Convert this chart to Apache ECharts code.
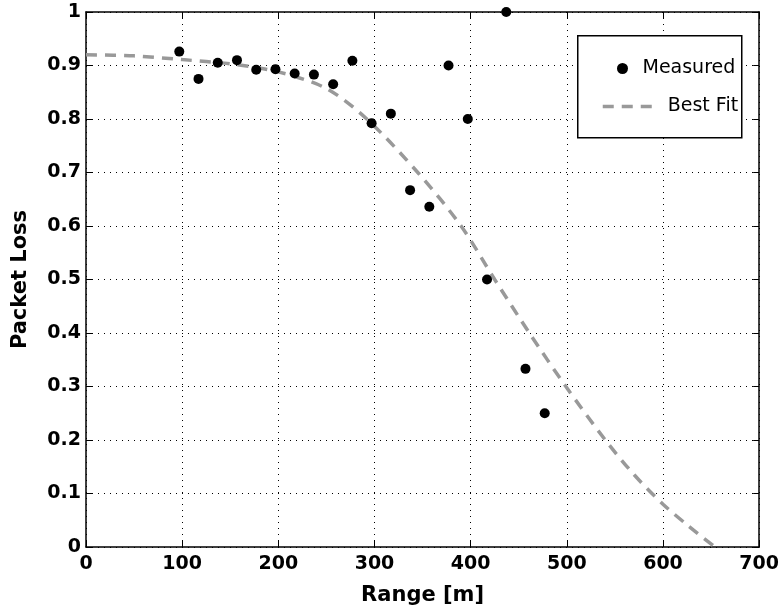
<!DOCTYPE html>
<html lang="en">
<head>
    <meta charset="UTF-8">
    <title>Packet Loss</title>
    <style>
        html, body { margin: 0; padding: 0; background: #fff; overflow: hidden; }
    </style>
</head>
<body>
<div id="chart" style="width: 782px; height: 611px"></div>
<script src="https://cdn.jsdelivr.net/npm/echarts@6/dist/echarts.min.js"></script>
<script>
    // measured points
    var rangeMeasured = [97, 117, 137, 157, 177, 197, 217, 237, 257, 277,
                         297, 317, 337, 357, 377, 397, 417, 437, 457, 477];
    var lossMeasured = [0.926, 0.875, 0.905, 0.91, 0.892, 0.893, 0.885, 0.883, 0.865, 0.909,
                        0.792, 0.81, 0.667, 0.636, 0.9, 0.8, 0.5, 1.0, 0.333, 0.25];

    // best fit curve
    var rangeFit = [0, 50, 100, 150, 200, 250, 292, 345, 390, 425, 461, 499, 540, 570, 600, 626, 654];
    var lossFit = [0.92, 0.918, 0.911, 0.903, 0.888, 0.857, 0.8, 0.7, 0.6, 0.5, 0.4, 0.3, 0.2, 0.135, 0.08, 0.04, 0];

    var xTicks = [0, 100, 200, 300, 400, 500, 600, 700];

    var measuredData = [];
    for (var i in rangeMeasured) {
        measuredData.push([rangeMeasured[i], lossMeasured[i]]);
    }
    var fitData = [];
    for (var j in rangeFit) {
        fitData.push([rangeFit[j], lossFit[j]]);
    }

    var font = 'DejaVu Sans';
    var gridLine = { show: true, lineStyle: { color: '#000', width: 1, type: [1, 5] } };
    var tickIn = { show: true, inside: true, length: 6, lineStyle: { color: '#000', width: 1 } };
    var axisLine = { show: true, onZero: false, lineStyle: { color: '#000', width: 1.5 } };
    var fitLine = { color: '#999', width: 3.5, type: [11, 8] };

    var chart = echarts.init(document.getElementById('chart'));
    var option = {
        animation: false,
        grid: { left: 86, right: 22, top: 12, bottom: 59, containLabel: false },
        xAxis: [{
            type: 'value',
            min: 0, max: 700, interval: 100,
            name: 'Range [m]',
            nameLocation: 'middle',
            nameGap: 38,
            nameTextStyle: { fontFamily: font, fontWeight: 'bold', fontSize: 21, color: '#000' },
            axisLine: axisLine,
            axisTick: tickIn,
            splitLine: gridLine,
            axisLabel: {
                fontFamily: font, fontWeight: 'bold', fontSize: 19, color: '#000', margin: 8,
                formatter: function (v) { return xTicks.indexOf(v) >= 0 ? String(v) : ''; }
            }
        }, {
            type: 'value', position: 'top',
            min: 0, max: 700, interval: 100,
            axisLine: axisLine, axisTick: tickIn, axisLabel: { show: false }, splitLine: { show: false }
        }],
        yAxis: [{
            type: 'value',
            min: 0, max: 1, interval: 0.1,
            name: 'Packet Loss',
            nameLocation: 'middle',
            nameGap: 55,
            nameTextStyle: { fontFamily: font, fontWeight: 'bold', fontSize: 21, color: '#000' },
            axisLine: axisLine,
            axisTick: tickIn,
            splitLine: gridLine,
            axisLabel: { fontFamily: font, fontWeight: 'bold', fontSize: 19, color: '#000', margin: 5 }
        }, {
            type: 'value', position: 'right',
            min: 0, max: 1, interval: 0.1,
            axisLine: axisLine, axisTick: tickIn, axisLabel: { show: false }, splitLine: { show: false }
        }],
        legend: [{
            data: ['Measured'],
            left: 612, top: 54,
            z: 10,
            itemWidth: 18, itemHeight: 11,
            textStyle: { fontFamily: font, fontSize: 19, color: '#000', padding: [0, 0, 0, 6] }
        }, {
            data: ['Best Fit'],
            left: 596, top: 92,
            z: 10,
            itemWidth: 50, itemHeight: 14,
            itemStyle: { opacity: 0 },
            lineStyle: fitLine,
            textStyle: { fontFamily: font, fontSize: 19, color: '#000', padding: [0, 0, 0, 10] }
        }],
        graphic: [{
            type: 'rect',
            left: 577, top: 35,
            shape: { width: 164, height: 102 },
            style: { fill: '#fff', stroke: '#000', lineWidth: 1.5 },
            z: 5
        }],
        series: [{
            name: 'Best Fit',
            type: 'line',
            data: fitData,
            smooth: 0.3,
            showSymbol: false,
            symbol: 'none',
            lineStyle: fitLine,
            itemStyle: { color: '#999' },
            z: 2
        }, {
            name: 'Measured',
            type: 'scatter',
            data: measuredData,
            symbol: 'circle',
            symbolSize: 10,
            itemStyle: { color: '#000', opacity: 1 },
            z: 3
        }]
    };
    chart.setOption(option);
</script>
</body>
</html>
